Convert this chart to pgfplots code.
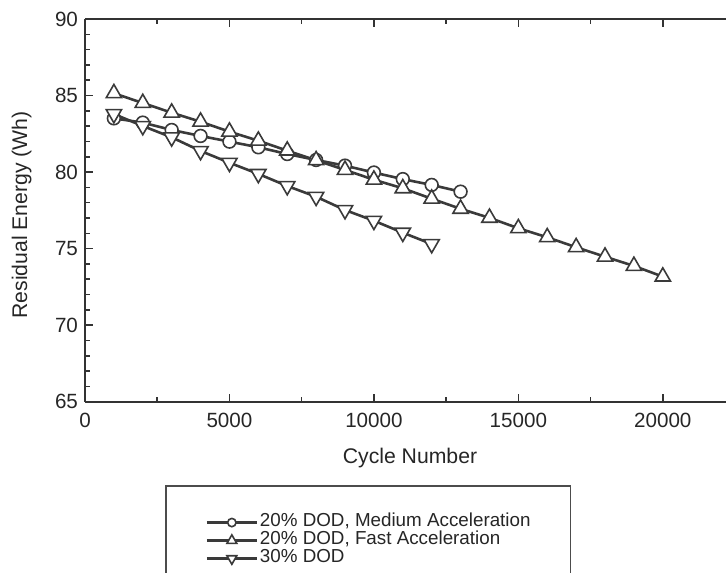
\documentclass[border=0pt]{standalone}
\usepackage{fontspec}
\setmainfont{Liberation Sans}
\usepackage{pgfplots}
\pgfplotsset{compat=1.18}
\definecolor{ln}{HTML}{3A3A3A}
\definecolor{ax}{HTML}{333333}
\begin{document}
\begin{tikzpicture}
\begin{axis}[
  scale only axis,
  width=320.5pt, height=191.35pt,
  xmin=0, xmax=22188, ymin=65, ymax=90,
  every non boxed y axis/.style={},
  every non boxed x axis/.style={},
  axis x line=box, axis y line=left,
  axis line style={ax, line width=0.9pt, -},
  xtick={0,5000,10000,15000,20000}, ytick={65,70,75,80,85,90},
  minor x tick num=1, minor y tick num=4,
  xtick pos=both, ytick pos=left,
  tick align=inside,
  major tick length=4pt, minor tick length=2.5pt,
  tick style={ax, line width=0.8pt},
  scaled x ticks=false,
  /pgf/number format/assume math mode=true,
  x tick label style={/pgf/number format/1000 sep={}, yshift=-2pt},
  tick label style={font=\fontsize{10.3}{12.3}\selectfont, text=black!85},
  every axis x label/.style={at={(rel axis cs:0.507,-0.147)}, anchor=center},
  every axis y label/.style={at={(rel axis cs:-0.0988,0.488)}, rotate=90, anchor=center},
  label style={font=\fontsize{10.6}{12.7}\selectfont, text=black!85},
  xlabel={Cycle Number},
  ylabel={Residual Energy (Wh)},
  legend cell align=left,
  legend image code/.code={\draw[mark repeat=2,mark phase=2,#1,line width=1.1pt,every mark/.append style={scale=0.65}] plot coordinates {(0pt,0pt) (12.5pt,0pt) (25pt,0pt)};},
  legend style={at={(rel axis cs:0.1248,-0.2177)}, anchor=north west,
    draw=black!70, line width=0.75pt, inner xsep=20pt, inner ysep=13.9pt,
    row sep=0pt, column sep=1pt, font=\fontsize{9.4}{11}\selectfont, text=black!85,
    nodes={inner sep=0pt, text height=6.5pt, text depth=2.5pt, anchor=west}},
]
\addplot[ln, line width=1.3pt, mark=*, mark size=3.2pt, mark options={fill=white, draw=ln, line width=0.8pt}] coordinates {
(1000,83.51) (2000,83.23) (3000,82.75) (4000,82.36) (5000,81.99) (6000,81.62) (7000,81.18)
(8000,80.79) (9000,80.42) (10000,79.97) (11000,79.54) (12000,79.16) (13000,78.72)};
\addlegendentry{20\% DOD, Medium Acceleration}
\addplot[ln, line width=1.3pt, mark=triangle*, mark size=4.4pt, mark options={fill=white, draw=ln, line width=0.8pt}] coordinates {
(1000,85.15) (2000,84.51) (3000,83.88) (4000,83.29) (5000,82.64) (6000,82.05) (7000,81.40)
(8000,80.77) (9000,80.14) (10000,79.50) (11000,78.94) (12000,78.26) (13000,77.60) (14000,77.01)
(15000,76.33) (16000,75.74) (17000,75.09) (18000,74.47) (19000,73.87) (20000,73.17)};
\addlegendentry{20\% DOD, Fast Acceleration}
\addplot[ln, line width=1.3pt, mark=triangle*, mark size=4.4pt, mark options={fill=white, draw=ln, line width=0.8pt, rotate=180}] coordinates {
(1000,83.79) (2000,83.01) (3000,82.27) (4000,81.38) (5000,80.61) (6000,79.88) (7000,79.09)
(8000,78.39) (9000,77.52) (10000,76.82) (11000,76.04) (12000,75.30)};
\addlegendentry{30\% DOD}
\end{axis}
\pgfresetboundingbox
\path[use as bounding box] (-42.5pt,-85.15pt) rectangle (320.5pt,200.85pt);
\end{tikzpicture}
\end{document}
